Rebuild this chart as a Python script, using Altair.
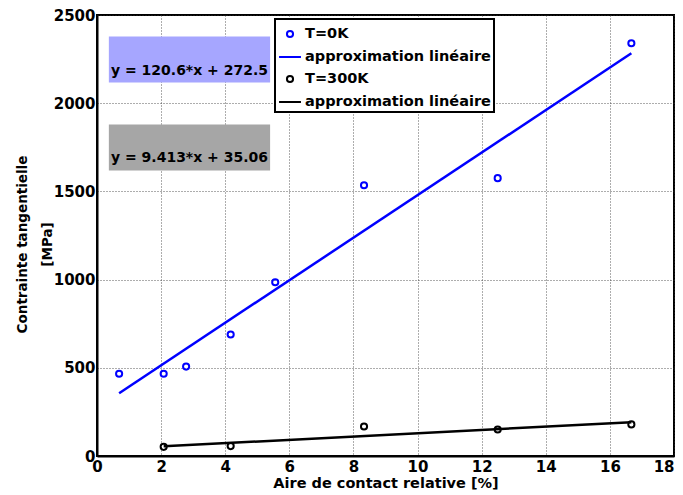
import altair as alt
import pandas as pd

# ---- data ----
x_0K = [0.69, 2.08, 2.78, 4.17, 5.56, 8.33, 12.5, 16.67]
y_0K = [466, 466, 507, 689, 985, 1535, 1575, 2340]
x_300K = [2.08, 4.17, 8.33, 12.5, 16.67]
y_300K = [52, 56, 167, 150, 179]

fit_x_0K = [0.69, 16.67]
fit_y_0K = [356, 2283]
fit_x_300K = [2.08, 16.67]
fit_y_300K = [55, 192]

labels = ["T=0K", "approximation linéaire", "T=300K", "approximation linéaire "]
colors = ["#0000ff", "#0000ff", "#000000", "#000000"]
CIRCLE = "M-0.28,0A0.28,0.28 0 1,0 0.28,0A0.28,0.28 0 1,0 -0.28,0Z"
STROKE = "M-1,0L1,0"
shapes = [CIRCLE, STROKE, CIRCLE, STROKE]

x_ticks = list(range(0, 19, 2))
y_ticks = list(range(0, 2501, 500))

eq_text = ["y = 120.6*x + 272.5", "y = 9.413*x + 35.06"]
eq_fill = ["#a6a6ff", "#a6a6a6"]
eq_x = [0.37, 5.40]
eq_box_y = [[2117, 2378], [1618, 1879]]
eq_text_y = [2160, 1668]

FONT = "DejaVu Sans"

pts = pd.DataFrame(
    {"x": x_0K + x_300K,
     "y": y_0K + y_300K,
     "series": [labels[0]] * len(x_0K) + [labels[2]] * len(x_300K)}
)
fits = pd.DataFrame(
    {"x": fit_x_0K + fit_x_300K,
     "y": fit_y_0K + fit_y_300K,
     "series": [labels[1]] * 2 + [labels[3]] * 2}
)
eqs = pd.DataFrame(
    {"text": eq_text,
     "fill": eq_fill,
     "x1": [eq_x[0]] * 2, "x2": [eq_x[1]] * 2,
     "y1": [b[0] for b in eq_box_y], "y2": [b[1] for b in eq_box_y],
     "ty": eq_text_y,
     "tx": [(eq_x[0] + eq_x[1]) / 2] * 2}
)

xs = alt.Scale(domain=[0, 18], nice=False, zero=False)
ys = alt.Scale(domain=[0, 2500], nice=False)

color_scale = alt.Scale(domain=labels, range=colors)
shape_scale = alt.Scale(domain=labels, range=shapes)

x_axis = alt.Axis(values=x_ticks, title="Aire de contact relative [%]",
                  format="d", titlePadding=2,
                  labelAlign={"expr": "datum.value >= 18 ? 'right' : 'center'"})
y_axis = alt.Axis(values=y_ticks, title=["Contrainte tangentielle", "[MPa]"],
                  format="d", titleX=-82, titleY=229, titleBaseline="top",
                  titleLineHeight=25, titleAngle=-90, titleAlign="center",
                  titleFontSize=13.5)

legend = alt.Legend(title=None, orient="none", legendX=178, legendY=4,
                    strokeColor="black", fillColor="white", padding=3,
                    rowPadding=3, labelOffset=3, symbolStrokeWidth=2,
                    symbolSize=480,
                    labelFont=FONT, labelFontWeight="bold", labelFontSize=14.5,
                    labelColor="black", labelLimit=400)

boxes = alt.Chart(eqs).mark_rect().encode(
    x=alt.X("x1:Q", scale=xs, axis=x_axis),
    x2="x2:Q",
    y=alt.Y("y1:Q", scale=ys, axis=y_axis),
    y2="y2:Q",
    color=alt.Color("fill:N", scale=None),
)
texts = alt.Chart(eqs).mark_text(
    font=FONT, fontWeight="bold", fontSize=14, baseline="alphabetic", align="center", color="black"
).encode(
    x=alt.X("tx:Q", scale=xs), y=alt.Y("ty:Q", scale=ys), text="text:N"
)

lines = alt.Chart(fits).mark_line(strokeWidth=2.5).encode(
    x=alt.X("x:Q", scale=xs),
    y=alt.Y("y:Q", scale=ys),
    color=alt.Color("series:N", scale=color_scale, legend=legend),
    detail="series:N",
)
points = alt.Chart(pts).mark_point(filled=False, strokeWidth=2, opacity=1, size=480).encode(
    x=alt.X("x:Q", scale=xs),
    y=alt.Y("y:Q", scale=ys),
    color=alt.Color("series:N", scale=color_scale, legend=legend),
    shape=alt.Shape("series:N", scale=shape_scale, legend=legend),
)

chart = alt.layer(boxes, texts, lines, points).properties(
    width=577, height=441,
    autosize=alt.AutoSizeParams(type="none"),
    padding={"left": 89, "top": 7, "right": 1, "bottom": 38},
).configure_view(
    stroke="black", strokeWidth=2
).configure_axis(
    domainColor="black", domainWidth=2,
    grid=True, gridColor="#333333", gridDash=[1, 2], gridWidth=1, gridOpacity=0.8,
    ticks=False, labelPadding=2,
    labelFont=FONT, labelFontWeight="bold", labelFontSize=15, labelColor="black",
    titleFont=FONT, titleFontWeight="bold", titleFontSize=14.5, titleColor="black",
    labelOverlap=False, labelFlush=False,
).configure_axisX(labelPadding=3).configure_legend(
    strokeWidth=2
)

chart.save("out.html", embed_options={"renderer": "svg", "actions": False})
